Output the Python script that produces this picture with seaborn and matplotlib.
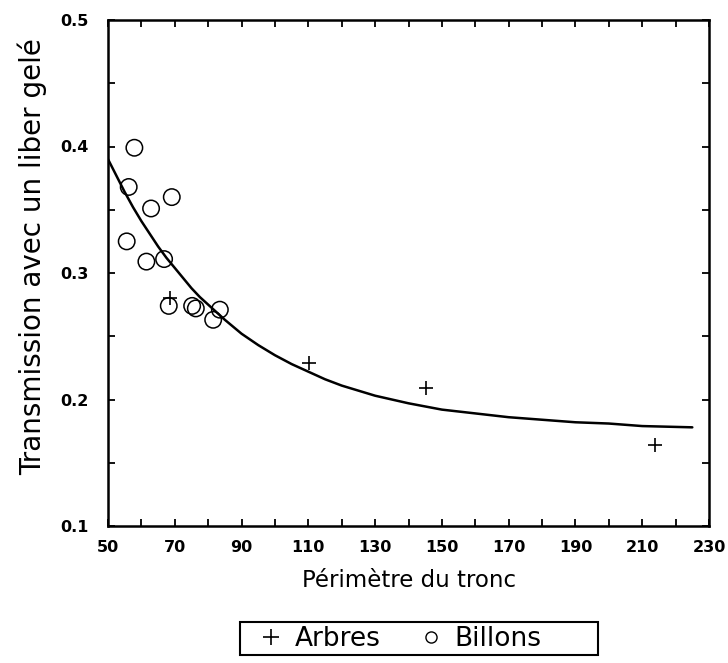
import numpy as np
import pandas as pd
import matplotlib
matplotlib.use("Agg")
import matplotlib.pyplot as plt
from matplotlib.ticker import MultipleLocator, FormatStrFormatter
from matplotlib.lines import Line2D
from matplotlib.patches import Rectangle
import seaborn as sns

# Data
billons_x = [57.9, 56.2, 62.9, 69.1, 55.6, 61.5, 66.8, 68.2, 75.2, 76.3, 81.5, 83.5]
billons_y = [0.399, 0.368, 0.351, 0.360, 0.325, 0.309, 0.311, 0.274, 0.274, 0.272, 0.263, 0.271]
arbres_x = [68.6, 110.3, 145.2, 213.9]
arbres_y = [0.280, 0.229, 0.209, 0.164]
curve_x = [50, 52.5, 55, 57.5, 60, 62.5, 65, 67.5, 70, 72.5, 75, 77.5, 80, 85, 90, 95, 100, 105,
           110, 115, 120, 125, 130, 135, 140, 150, 160, 170, 180, 190, 200, 210, 225]
curve_y = [0.390, 0.377, 0.364, 0.352, 0.341, 0.331, 0.321, 0.312, 0.304, 0.296, 0.288, 0.281,
           0.275, 0.263, 0.252, 0.243, 0.235, 0.228, 0.222, 0.216, 0.211, 0.207, 0.203, 0.200,
           0.197, 0.192, 0.189, 0.186, 0.184, 0.182, 0.181, 0.179, 0.178]
legend_labels = ["Arbres", "Billons"]

sns.set_style("ticks")
plt.rcParams['font.family'] = ['DejaVu Sans']

df_pts = pd.DataFrame({
    "x": billons_x + arbres_x,
    "y": billons_y + arbres_y,
    "groupe": ["Billons"] * len(billons_x) + ["Arbres"] * len(arbres_x),
})
df_curve = pd.DataFrame({"x": curve_x, "y": curve_y})

W, H = 728, 663
fig = plt.figure(figsize=(W / 100, H / 100), dpi=100)
ax = fig.add_axes([108 / W, 1 - 526 / H, (709 - 108) / W, (526 - 20) / H])

sns.lineplot(data=df_curve, x="x", y="y", ax=ax, color="black", lw=1.8, legend=False)
sns.scatterplot(data=df_pts[df_pts.groupe == "Billons"], x="x", y="y", ax=ax,
                marker="o", s=140, facecolor="none", edgecolor="black", linewidth=1.1, legend=False)
sns.scatterplot(data=df_pts[df_pts.groupe == "Arbres"], x="x", y="y", ax=ax,
                marker="+", s=110, color="black", linewidth=1.2, legend=False)

ax.set_xlim(50, 230)
ax.set_ylim(0.1, 0.5)
ax.set_xticks(np.arange(50, 231, 20))
ax.xaxis.set_minor_locator(MultipleLocator(10))
ax.yaxis.set_major_locator(MultipleLocator(0.1))
ax.yaxis.set_minor_locator(MultipleLocator(0.05))
ax.yaxis.set_major_formatter(FormatStrFormatter("%.1f"))
ax.tick_params(which="both", direction="in", length=5, width=1.3, top=True, right=True,
               colors="black")
ax.tick_params(axis="x", which="major", labelsize=11.5, pad=10)
ax.tick_params(axis="y", which="major", labelsize=11.5, pad=14)
for lab in ax.get_xticklabels() + ax.get_yticklabels():
    lab.set_fontweight("bold")
for s in ax.spines.values():
    s.set_linewidth(1.8)
    s.set_color("black")

ax.set_xlabel("Périmètre du tronc", fontsize=16.5, labelpad=10, color="black")
ax.set_ylabel("Transmission avec un liber gelé", fontsize=20, color="black")
ax.yaxis.set_label_coords((47 - 108) / 601, (526 - 257) / 506)

handles = [
    Line2D([], [], marker="+", linestyle="none", color="black", markersize=11, markeredgewidth=1.2),
    Line2D([], [], marker="o", linestyle="none", markerfacecolor="none", markeredgecolor="black",
           markersize=8, markeredgewidth=1.0),
]
leg = fig.legend(handles, legend_labels, loc="center left", ncol=2,
                 bbox_to_anchor=(255 / W, 1 - 639 / H), fontsize=19, frameon=False,
                 handletextpad=0.3, columnspacing=1.3, borderpad=0, handlelength=1.2,
                 borderaxespad=0)
for t in leg.get_texts():
    t.set_color("black")
fig.patches.append(Rectangle((240 / W, 1 - 655 / H), (598 - 240) / W, (655 - 622) / H,
                             transform=fig.transFigure, fill=False, edgecolor="black",
                             linewidth=1.5))

fig.savefig("out.png", dpi=100)
